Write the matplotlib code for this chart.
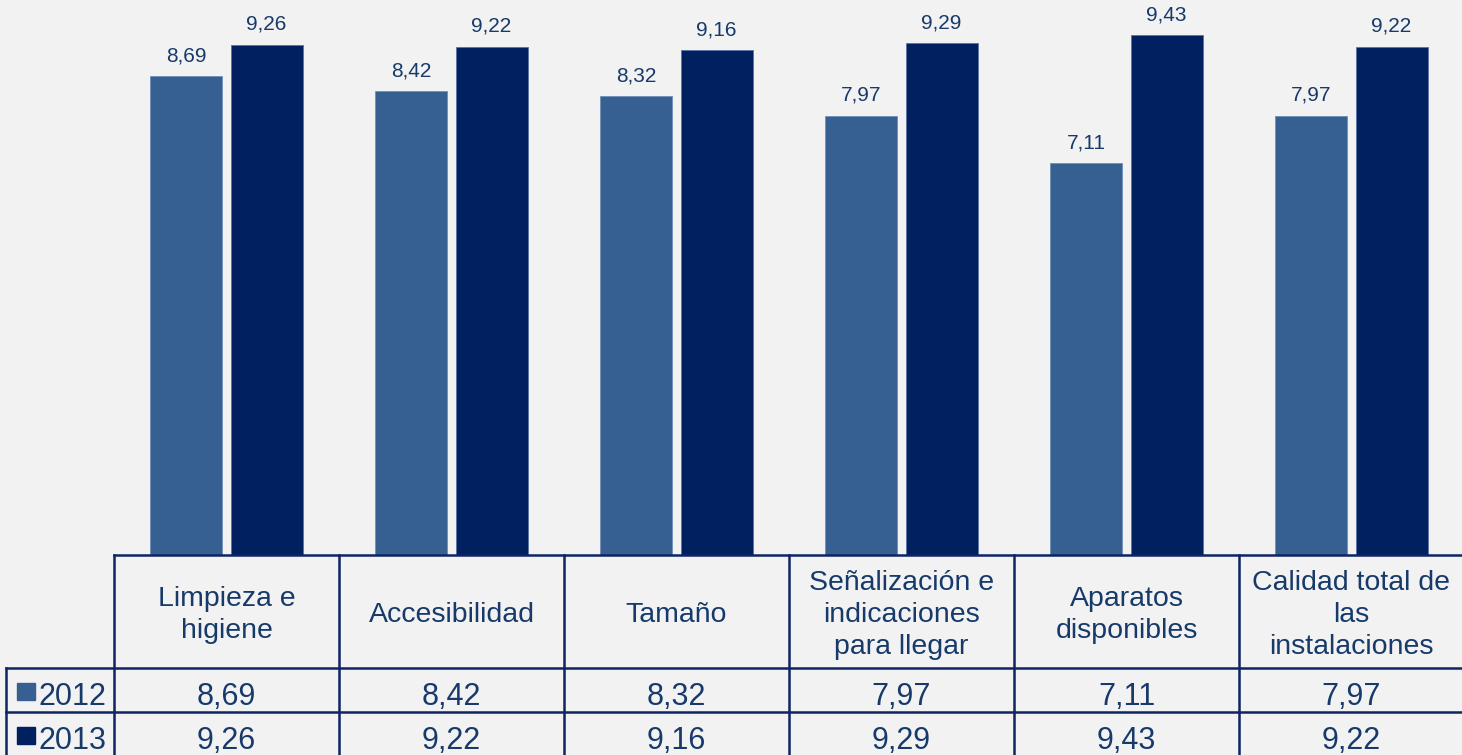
import matplotlib
matplotlib.use("Agg")
import matplotlib.pyplot as plt
import numpy as np

categories = ["Limpieza e\nhigiene", "Accesibilidad", "Tamaño",
              "Señalización e\nindicaciones\npara llegar", "Aparatos\ndisponibles",
              "Calidad total de\nlas\ninstalaciones"]
series_names = ["2012", "2013"]
values_2012 = [8.69, 8.42, 8.32, 7.97, 7.11, 7.97]
values_2013 = [9.26, 9.22, 9.16, 9.29, 9.43, 9.22]

def fmt(v):
    return f"{v:.2f}".replace(".", ",")

plt.rcParams['font.family'] = ['Liberation Sans', 'DejaVu Sans']
BG = "#F2F2F2"
C12 = "#376092"
C13 = "#002060"
TXT = "#173A6A"
LINE = "#0F2462"

W, H = 1462, 755
fig = plt.figure(figsize=(W / 100, H / 100), dpi=100, facecolor=BG)

# table geometry (pixels)
x0 = 114
colw = 225
y_axis_bottom = 555
y_hdr_bottom = 668
y_row1_bottom = 712
y_row2_bottom = 757
x_left = 6

n = len(categories)
ax = fig.add_axes([x0 / W, 1 - y_axis_bottom / H, n * colw / W, y_axis_bottom / H])
ax.set_facecolor(BG)
x = np.arange(n)
bw = 0.32
off = 0.178
b1 = ax.bar(x - off, values_2012, bw, color=C12, edgecolor="#6F8FB8", linewidth=0.6)
b2 = ax.bar(x + off, values_2013, bw, color=C13, edgecolor="#5A73A6", linewidth=0.6)
for rects, vals in ((b1, values_2012), (b2, values_2013)):
    for r, v in zip(rects, vals):
        ax.text(r.get_x() + r.get_width() / 2, v + 0.27, fmt(v), ha="center", va="baseline",
                fontsize=15, color=TXT)
ax.set_xlim(-0.5, n - 0.5)
ax.set_ylim(0, 10.07)
ax.axis("off")

# overlay for the data table
ov = fig.add_axes([0, 0, 1, 1])
ov.set_xlim(0, W)
ov.set_ylim(H, 0)
ov.axis("off")
ov.patch.set_alpha(0)

right = x0 + n * colw
lw = 1.8
ov.plot([x0, right], [y_axis_bottom, y_axis_bottom], color=LINE, lw=lw)
ov.plot([x_left, right], [y_hdr_bottom, y_hdr_bottom], color=LINE, lw=lw)
ov.plot([x_left, right], [y_row1_bottom, y_row1_bottom], color=LINE, lw=lw)
ov.plot([x_left, x_left], [y_hdr_bottom, y_row2_bottom], color=LINE, lw=lw)
for i in range(n + 1):
    xx = x0 + i * colw
    ov.plot([xx, xx], [y_axis_bottom, y_row2_bottom], color=LINE, lw=lw)

for i, cat in enumerate(categories):
    cx = x0 + (i + 0.5) * colw
    ov.text(cx, 615, cat, ha="center", va="center",
            fontsize=20.5, color=TXT, linespacing=1.3)
    ov.text(cx, 705, fmt(values_2012[i]), ha="center", va="baseline", fontsize=22, color=TXT)
    ov.text(cx, 749, fmt(values_2013[i]), ha="center", va="baseline", fontsize=22, color=TXT)

for j, (name, col) in enumerate(zip(series_names, [C12, C13])):
    base = 705 if j == 0 else 749
    ov.add_patch(plt.Rectangle((17, base - 22), 18, 17, color=col))
    ov.text(39, base, name, ha="left", va="baseline", fontsize=22, color=TXT)

fig.savefig("out.png", dpi=100, facecolor=BG)
